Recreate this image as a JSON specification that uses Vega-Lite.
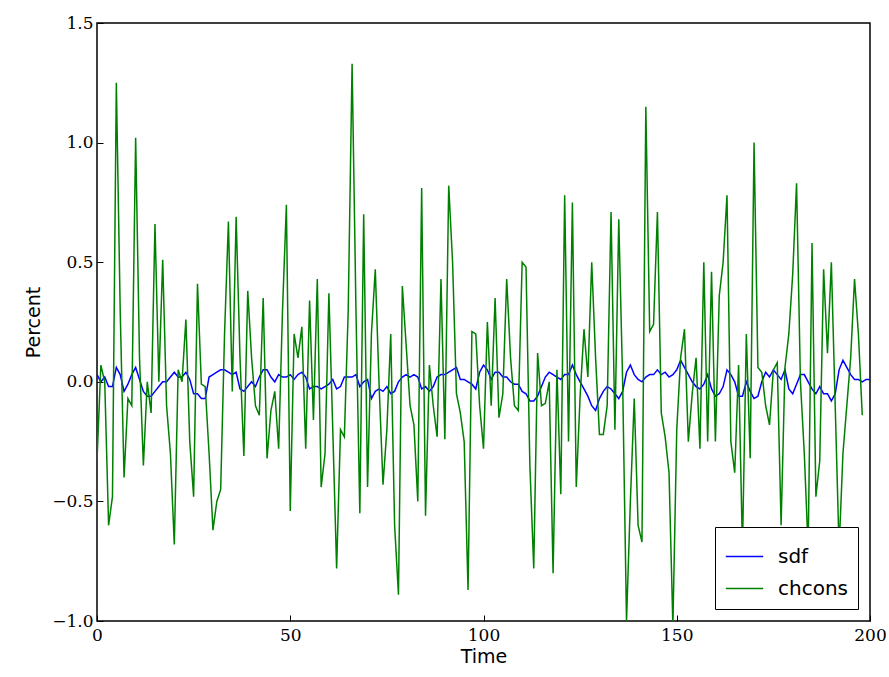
{
  "$schema": "https://vega.github.io/schema/vega-lite/v6.json",
  "width": 773,
  "height": 598,
  "autosize": "none",
  "padding": {"left": 97, "top": 23, "right": 19, "bottom": 56},
  "background": "white",
  "config": {"view": {"stroke": "black", "strokeWidth": 1.5}},
  "data": {"values": [
    {"t":0,"sdf":0.03,"chcons":-0.33},{"t":1,"sdf":0.0,"chcons":0.07},{"t":2,"sdf":0.02,"chcons":0.0},{"t":3,"sdf":-0.02,"chcons":-0.6},{"t":4,"sdf":-0.02,"chcons":-0.48},
    {"t":5,"sdf":0.06,"chcons":1.25},{"t":6,"sdf":0.03,"chcons":0.3},{"t":7,"sdf":-0.04,"chcons":-0.4},{"t":8,"sdf":-0.01,"chcons":-0.07},{"t":9,"sdf":0.03,"chcons":-0.1},
    {"t":10,"sdf":0.06,"chcons":1.02},{"t":11,"sdf":0.01,"chcons":0.1},{"t":12,"sdf":-0.04,"chcons":-0.35},{"t":13,"sdf":-0.06,"chcons":0.0},{"t":14,"sdf":-0.06,"chcons":-0.13},
    {"t":15,"sdf":-0.04,"chcons":0.66},{"t":16,"sdf":-0.02,"chcons":0.0},{"t":17,"sdf":0.0,"chcons":0.51},{"t":18,"sdf":0.0,"chcons":-0.1},{"t":19,"sdf":0.02,"chcons":-0.3},
    {"t":20,"sdf":0.04,"chcons":-0.68},{"t":21,"sdf":0.02,"chcons":0.05},{"t":22,"sdf":0.02,"chcons":0.0},{"t":23,"sdf":0.04,"chcons":0.26},{"t":24,"sdf":0.01,"chcons":-0.25},
    {"t":25,"sdf":-0.05,"chcons":-0.48},{"t":26,"sdf":-0.05,"chcons":0.41},{"t":27,"sdf":-0.07,"chcons":-0.01},{"t":28,"sdf":-0.07,"chcons":-0.02},{"t":29,"sdf":0.02,"chcons":-0.3},
    {"t":30,"sdf":0.03,"chcons":-0.62},{"t":31,"sdf":0.04,"chcons":-0.5},{"t":32,"sdf":0.05,"chcons":-0.45},{"t":33,"sdf":0.05,"chcons":0.2},{"t":34,"sdf":0.04,"chcons":0.67},
    {"t":35,"sdf":0.03,"chcons":-0.04},{"t":36,"sdf":0.04,"chcons":0.69},{"t":37,"sdf":-0.03,"chcons":0.1},{"t":38,"sdf":-0.04,"chcons":-0.31},{"t":39,"sdf":-0.02,"chcons":0.38},
    {"t":40,"sdf":0.0,"chcons":0.1},{"t":41,"sdf":-0.02,"chcons":-0.1},{"t":42,"sdf":0.02,"chcons":-0.14},{"t":43,"sdf":0.05,"chcons":0.35},{"t":44,"sdf":0.05,"chcons":-0.32},
    {"t":45,"sdf":0.02,"chcons":-0.12},{"t":46,"sdf":0.0,"chcons":-0.04},{"t":47,"sdf":0.03,"chcons":-0.28},{"t":48,"sdf":0.02,"chcons":0.3},{"t":49,"sdf":0.02,"chcons":0.74},
    {"t":50,"sdf":0.03,"chcons":-0.54},{"t":51,"sdf":0.01,"chcons":0.2},{"t":52,"sdf":0.03,"chcons":0.1},{"t":53,"sdf":0.04,"chcons":0.23},{"t":54,"sdf":0.02,"chcons":-0.28},
    {"t":55,"sdf":-0.03,"chcons":0.34},{"t":56,"sdf":-0.02,"chcons":-0.16},{"t":57,"sdf":-0.02,"chcons":0.43},{"t":58,"sdf":-0.03,"chcons":-0.44},{"t":59,"sdf":-0.02,"chcons":-0.3},
    {"t":60,"sdf":-0.01,"chcons":0.37},{"t":61,"sdf":0.01,"chcons":-0.2},{"t":62,"sdf":-0.03,"chcons":-0.78},{"t":63,"sdf":-0.02,"chcons":-0.2},{"t":64,"sdf":0.02,"chcons":-0.23},
    {"t":65,"sdf":0.02,"chcons":0.3},{"t":66,"sdf":0.02,"chcons":1.33},{"t":67,"sdf":0.03,"chcons":0.3},{"t":68,"sdf":-0.02,"chcons":-0.55},{"t":69,"sdf":0.0,"chcons":0.7},
    {"t":70,"sdf":0.01,"chcons":-0.44},{"t":71,"sdf":-0.07,"chcons":0.2},{"t":72,"sdf":-0.04,"chcons":0.47},{"t":73,"sdf":-0.03,"chcons":-0.02},{"t":74,"sdf":-0.04,"chcons":-0.43},
    {"t":75,"sdf":-0.02,"chcons":-0.2},{"t":76,"sdf":-0.05,"chcons":0.2},{"t":77,"sdf":-0.04,"chcons":-0.6},{"t":78,"sdf":0.0,"chcons":-0.89},{"t":79,"sdf":0.02,"chcons":0.4},
    {"t":80,"sdf":0.03,"chcons":0.15},{"t":81,"sdf":0.02,"chcons":-0.1},{"t":82,"sdf":0.03,"chcons":-0.18},{"t":83,"sdf":0.02,"chcons":-0.5},{"t":84,"sdf":-0.03,"chcons":0.81},
    {"t":85,"sdf":-0.02,"chcons":-0.56},{"t":86,"sdf":-0.04,"chcons":0.07},{"t":87,"sdf":-0.02,"chcons":-0.1},{"t":88,"sdf":0.02,"chcons":-0.23},{"t":89,"sdf":0.03,"chcons":0.43},
    {"t":90,"sdf":0.03,"chcons":-0.24},{"t":91,"sdf":0.04,"chcons":0.82},{"t":92,"sdf":0.05,"chcons":0.5},{"t":93,"sdf":0.06,"chcons":-0.05},{"t":94,"sdf":0.01,"chcons":-0.13},
    {"t":95,"sdf":0.01,"chcons":-0.25},{"t":96,"sdf":0.0,"chcons":-0.87},{"t":97,"sdf":-0.01,"chcons":0.21},{"t":98,"sdf":-0.03,"chcons":0.2},{"t":99,"sdf":0.04,"chcons":-0.1},
    {"t":100,"sdf":0.07,"chcons":-0.28},{"t":101,"sdf":0.05,"chcons":0.25},{"t":102,"sdf":0.01,"chcons":-0.1},{"t":103,"sdf":0.04,"chcons":0.35},{"t":104,"sdf":0.04,"chcons":-0.15},
    {"t":105,"sdf":0.02,"chcons":-0.05},{"t":106,"sdf":0.02,"chcons":0.43},{"t":107,"sdf":0.0,"chcons":0.1},{"t":108,"sdf":-0.01,"chcons":-0.1},{"t":109,"sdf":-0.01,"chcons":-0.12},
    {"t":110,"sdf":-0.04,"chcons":0.5},{"t":111,"sdf":-0.05,"chcons":0.48},{"t":112,"sdf":-0.08,"chcons":-0.35},{"t":113,"sdf":-0.08,"chcons":-0.78},{"t":114,"sdf":-0.06,"chcons":0.12},
    {"t":115,"sdf":-0.02,"chcons":-0.1},{"t":116,"sdf":0.02,"chcons":-0.09},{"t":117,"sdf":0.04,"chcons":0.0},{"t":118,"sdf":0.03,"chcons":-0.8},{"t":119,"sdf":0.02,"chcons":0.05},
    {"t":120,"sdf":0.01,"chcons":-0.47},{"t":121,"sdf":0.03,"chcons":0.78},{"t":122,"sdf":0.03,"chcons":-0.25},{"t":123,"sdf":0.07,"chcons":0.75},{"t":124,"sdf":0.03,"chcons":-0.44},
    {"t":125,"sdf":0.0,"chcons":-0.06},{"t":126,"sdf":-0.03,"chcons":0.22},{"t":127,"sdf":-0.06,"chcons":0.02},{"t":128,"sdf":-0.1,"chcons":0.5},{"t":129,"sdf":-0.12,"chcons":0.1},
    {"t":130,"sdf":-0.07,"chcons":-0.22},{"t":131,"sdf":-0.04,"chcons":-0.22},{"t":132,"sdf":-0.02,"chcons":-0.1},{"t":133,"sdf":-0.03,"chcons":0.71},{"t":134,"sdf":-0.05,"chcons":-0.2},
    {"t":135,"sdf":-0.07,"chcons":0.68},{"t":136,"sdf":-0.04,"chcons":0.0},{"t":137,"sdf":0.04,"chcons":-1.0},{"t":138,"sdf":0.07,"chcons":-0.5},{"t":139,"sdf":0.03,"chcons":-0.07},
    {"t":140,"sdf":0.01,"chcons":-0.6},{"t":141,"sdf":0.0,"chcons":-0.67},{"t":142,"sdf":0.02,"chcons":1.15},{"t":143,"sdf":0.03,"chcons":0.21},{"t":144,"sdf":0.03,"chcons":0.24},
    {"t":145,"sdf":0.05,"chcons":0.71},{"t":146,"sdf":0.03,"chcons":-0.13},{"t":147,"sdf":0.04,"chcons":-0.23},{"t":148,"sdf":0.02,"chcons":-0.38},{"t":149,"sdf":0.03,"chcons":-1.02},
    {"t":150,"sdf":0.05,"chcons":-0.2},{"t":151,"sdf":0.09,"chcons":0.1},{"t":152,"sdf":0.06,"chcons":0.22},{"t":153,"sdf":0.03,"chcons":-0.25},{"t":154,"sdf":0.0,"chcons":-0.05},
    {"t":155,"sdf":-0.02,"chcons":0.1},{"t":156,"sdf":-0.03,"chcons":-0.28},{"t":157,"sdf":-0.01,"chcons":0.5},{"t":158,"sdf":0.03,"chcons":-0.25},{"t":159,"sdf":-0.03,"chcons":0.46},
    {"t":160,"sdf":-0.06,"chcons":-0.25},{"t":161,"sdf":-0.05,"chcons":0.36},{"t":162,"sdf":-0.02,"chcons":0.5},{"t":163,"sdf":0.05,"chcons":0.78},{"t":164,"sdf":0.03,"chcons":-0.25},
    {"t":165,"sdf":0.0,"chcons":-0.38},{"t":166,"sdf":-0.06,"chcons":0.07},{"t":167,"sdf":-0.06,"chcons":-0.7},{"t":168,"sdf":0.0,"chcons":0.2},{"t":169,"sdf":-0.04,"chcons":-0.32},
    {"t":170,"sdf":-0.07,"chcons":1.0},{"t":171,"sdf":-0.06,"chcons":0.06},{"t":172,"sdf":0.0,"chcons":0.04},{"t":173,"sdf":0.04,"chcons":-0.1},{"t":174,"sdf":0.02,"chcons":-0.18},
    {"t":175,"sdf":0.05,"chcons":0.05},{"t":176,"sdf":0.03,"chcons":0.08},{"t":177,"sdf":0.01,"chcons":-0.6},{"t":178,"sdf":0.05,"chcons":0.06},{"t":179,"sdf":-0.03,"chcons":0.2},
    {"t":180,"sdf":-0.05,"chcons":0.45},{"t":181,"sdf":-0.01,"chcons":0.83},{"t":182,"sdf":0.03,"chcons":0.0},{"t":183,"sdf":0.03,"chcons":-0.3},{"t":184,"sdf":0.0,"chcons":-0.7},
    {"t":185,"sdf":-0.03,"chcons":0.58},{"t":186,"sdf":-0.05,"chcons":-0.48},{"t":187,"sdf":-0.02,"chcons":-0.33},{"t":188,"sdf":-0.05,"chcons":0.47},{"t":189,"sdf":-0.05,"chcons":0.12},
    {"t":190,"sdf":-0.08,"chcons":0.5},{"t":191,"sdf":-0.05,"chcons":-0.1},{"t":192,"sdf":0.05,"chcons":-0.7},{"t":193,"sdf":0.09,"chcons":-0.3},{"t":194,"sdf":0.06,"chcons":-0.1},
    {"t":195,"sdf":0.03,"chcons":0.1},{"t":196,"sdf":0.01,"chcons":0.43},{"t":197,"sdf":0.01,"chcons":0.2},{"t":198,"sdf":0.0,"chcons":-0.14},{"t":199,"sdf":0.01},
    {"t":200,"sdf":0.01}
  ]},
  "transform": [{"fold": ["sdf", "chcons"], "as": ["series", "value"]}, {"filter": "isValid(datum.value)"}],
  "mark": {"type": "line", "strokeWidth": 1.5, "clip": true},
  "encoding": {
    "x": {"field": "t", "type": "quantitative",
      "scale": {"domain": [0, 200], "nice": false},
      "axis": {"title": "Time", "values": [0, 50, 100, 150, 200], "grid": false, "tickSize": -6, "domain": false, "labelFlush": false,
        "labelFont": "DejaVu Serif", "labelFontSize": 17, "labelColor": "black", "labelPadding": 12, "tickColor": "black",
        "titleFont": "DejaVu Sans", "titleFontSize": 19, "titleFontWeight": "normal", "titleColor": "black", "titlePadding": 4}},
    "y": {"field": "value", "type": "quantitative",
      "scale": {"domain": [-1, 1.5], "nice": false, "zero": false},
      "axis": {"title": "Percent", "values": [-1, -0.5, 0, 0.5, 1, 1.5], "grid": false, "tickSize": -6, "domain": false, "labelFlush": false,
        "labelExpr": "replace(format(datum.value, '.1f'), '-', '−')",
        "labelFont": "DejaVu Serif", "labelFontSize": 17, "labelColor": "black", "labelPadding": 10, "tickColor": "black",
        "titleFont": "DejaVu Sans", "titleFontSize": 19, "titleFontWeight": "normal", "titleColor": "black", "titlePadding": 8}},
    "color": {"field": "series", "type": "nominal",
      "scale": {"domain": ["sdf", "chcons"], "range": ["#0000ff", "#008000"]},
      "legend": {"title": null, "orient": "bottom-right", "symbolType": "stroke", "symbolSize": 1400, "symbolStrokeWidth": 1.5,
        "labelFont": "DejaVu Sans", "labelFontSize": 20, "labelColor": "black", "rowPadding": 2, "labelOffset": 14,
        "strokeColor": "black", "fillColor": "white", "padding": 10, "offset": 12, "cornerRadius": 0}}
  }
}
